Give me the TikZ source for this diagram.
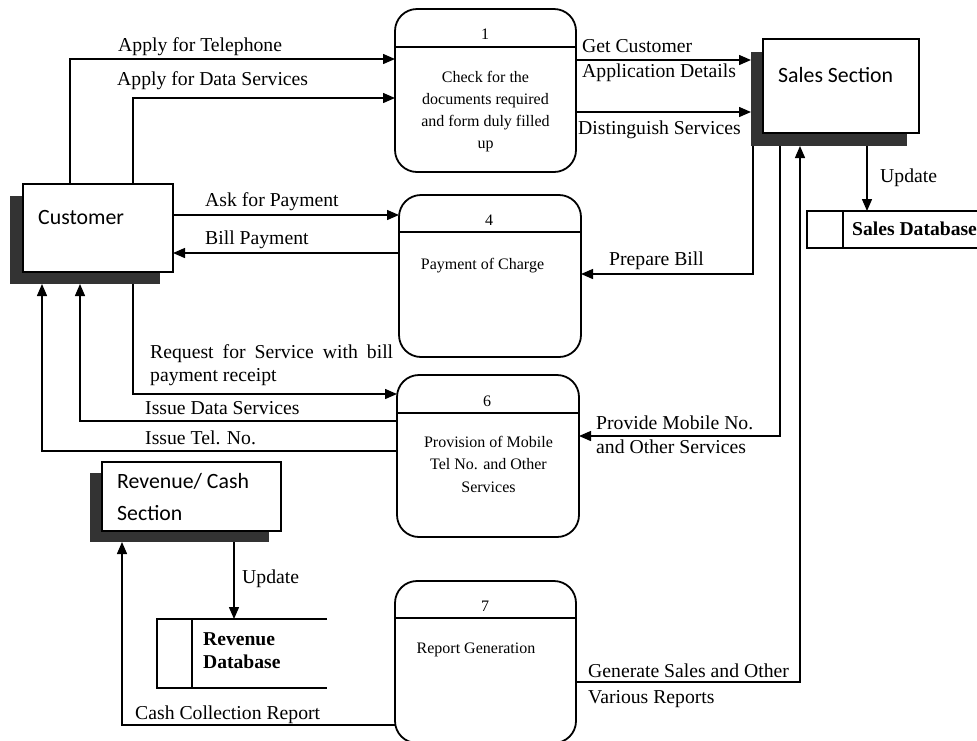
\documentclass[tikz,border=0pt]{standalone}
\usepackage{fontspec}
\setmainfont{Liberation Serif}
\newfontfamily\calibri{Carlito}
\usetikzlibrary{arrows.meta}
\definecolor{shadowgray}{HTML}{333333}

\tikzset{
  flow/.style={line width=1.4pt, -{Triangle[length=12pt,width=10pt]}},
  proc/.style={draw, line width=1.8pt, rounded corners=22pt, anchor=north west, inner sep=0pt, outer sep=0pt},
  pline/.style={line width=1.6pt},
  entity/.style={draw, line width=1.5pt, fill=white, anchor=north west, inner sep=0pt, outer sep=0pt},
  eshadow/.style={fill=shadowgray, anchor=north west, inner sep=0pt, outer sep=0pt},
  storearea/.style={anchor=north west, inner sep=0pt, outer sep=0pt},
  storeline/.style={line width=1.4pt},
  etext/.style={font=\calibri\fontsize{21.8}{26}\selectfont, inner sep=0pt, anchor=base west},
  dbtext/.style={font=\bfseries\fontsize{19.6}{23}\selectfont, inner sep=0pt, anchor=base west},
  ptext/.style={font=\fontsize{16}{22}\selectfont, inner sep=0pt, anchor=base},
  lbl/.style={font=\fontsize{19.7}{24}\selectfont, inner sep=0pt, anchor=base west},
}

\begin{document}
\begin{tikzpicture}[x=1pt,y=-1pt]
\useasboundingbox (0,0) rectangle (977,740);

% external entities with their dark offset shadows
\node[eshadow, minimum width=150pt, minimum height=88pt] (custS) at (10,196) {};
\node[entity, minimum width=150pt, minimum height=88pt] (cust) at (23,184) {};
\node[etext] (custT) at (38,224) {Customer};

\node[eshadow, minimum width=156pt, minimum height=94pt] (salesS) at (751,52) {};
\node[entity, minimum width=156pt, minimum height=94pt] (sales) at (763,39) {};
\node[etext] (salesT) at (778,82) {Sales Section};

\node[eshadow, minimum width=179pt, minimum height=69pt] (revS) at (90,473) {};
\node[entity, minimum width=179pt, minimum height=69pt] (rev) at (102,462) {};
\node[etext] (revT1) at (117,488) {Revenue/ Cash};
\node[etext] (revT2) at (117,520) {Section};

% processes
\node[proc, minimum width=181pt, minimum height=163pt] (p1) at (395,9) {};
\draw[pline] ([yshift=-38pt]p1.north west) -- ([yshift=-38pt]p1.north east);
\node[ptext] (n1) at (485,39) {1};
\node[ptext] (p1a) at (485.5,82) {Check for the};
\node[ptext] (p1b) at (485.5,104) {documents required};
\node[ptext] (p1c) at (485.5,126) {and form duly filled};
\node[ptext] (p1d) at (485.5,148) {up};

\node[proc, minimum width=182pt, minimum height=162pt] (p4) at (399,195) {};
\draw[pline] ([yshift=-37pt]p4.north west) -- ([yshift=-37pt]p4.north east);
\node[ptext] (n4) at (489,225) {4};
\node[ptext] (p4a) at (482.5,269) {Payment of Charge};

\node[proc, minimum width=182pt, minimum height=162pt] (p6) at (397,375) {};
\draw[pline] ([yshift=-38pt]p6.north west) -- ([yshift=-38pt]p6.north east);
\node[ptext] (n6) at (487,406) {6};
\node[ptext] (p6a) at (488.5,447) {Provision of Mobile};
\node[ptext] (p6b) at (488.5,469.5) {Tel No. and Other};
\node[ptext] (p6c) at (488.5,492) {Services};

\node[proc, minimum width=181pt, minimum height=162pt] (p7) at (395,581) {};
\draw[pline] ([yshift=-37pt]p7.north west) -- ([yshift=-37pt]p7.north east);
\node[ptext] (n7) at (485,611) {7};
\node[ptext] (p7a) at (476,653) {Report Generation};

% data stores (open on the right)
\node[storearea, minimum width=185pt, minimum height=37pt] (sdb) at (807,211) {};
\draw[storeline] (sdb.north east) -- (sdb.north west) -- (sdb.south west) -- (sdb.south east);
\draw[storeline] ([xshift=36pt]sdb.north west) -- ([xshift=36pt]sdb.south west);
\node[dbtext] (sdbT) at (852,235) {Sales Database};

\node[storearea, minimum width=170pt, minimum height=69pt] (rdb) at (157,619) {};
\draw[storeline] (rdb.north east) -- (rdb.north west) -- (rdb.south west) -- (rdb.south east);
\draw[storeline] ([xshift=35pt]rdb.north west) -- ([xshift=35pt]rdb.south west);
\node[dbtext] (rdbT1) at (203,645) {Revenue};
\node[dbtext] (rdbT2) at (203,668) {Database};

% bend points of the data flows
\coordinate (aTel) at (70,59);
\coordinate (aData) at (133,98);
\coordinate (aAsk) at (0,215);
\coordinate (aBill) at (0,253);
\coordinate (aReq) at (133,394);
\coordinate (aIDS) at (80,421);
\coordinate (aITN) at (42,451);
\coordinate (aGet) at (0,60);
\coordinate (aDist) at (0,112);
\coordinate (aUpd) at (867,0);
\coordinate (aPB) at (753,274);
\coordinate (aPM) at (780,436);
\coordinate (aGen) at (800,682);
\coordinate (aRU) at (234,0);
\coordinate (aCC) at (122,725);

% data flows
\draw[flow] (cust.north -| aTel) |- (p1.west |- aTel);
\draw[flow] (cust.north -| aData) |- (p1.west |- aData);
\draw[flow] (cust.east |- aAsk) -- (p4.west |- aAsk);
\draw[flow] (p4.west |- aBill) -- (cust.east |- aBill);
\draw[flow] (custS.south -| aReq) |- (p6.west |- aReq);
\draw[flow] (p6.west |- aIDS) -| (custS.south -| aIDS);
\draw[flow] (p6.west |- aITN) -| (custS.south -| aITN);
\draw[flow] (p1.east |- aGet) -- (salesS.west |- aGet);
\draw[flow] (p1.east |- aDist) -- (salesS.west |- aDist);
\draw[flow] (salesS.south -| aUpd) -- (sdb.north -| aUpd);
\draw[flow] (salesS.south -| aPB) |- (p4.east |- aPB);
\draw[flow] (salesS.south -| aPM) |- (p6.east |- aPM);
\draw[flow] (p7.east |- aGen) -| (salesS.south -| aGen);
\draw[flow] (revS.south -| aRU) -- (rdb.north -| aRU);
\draw[flow] (p7.west |- aCC) -| (revS.south -| aCC);

% flow labels
\node[lbl] (lTel) at (118,51) {Apply for Telephone};
\node[lbl] (lData) at (117,85) {Apply for Data Services};
\node[lbl] (lAsk) at (205,206) {Ask for Payment};
\node[lbl] (lBill) at (205,244) {Bill Payment};
\node[lbl] (lReq1) at (150,358) {\makebox[243pt][s]{Request for Service with bill}};
\node[lbl] (lReq2) at (150,381) {payment receipt};
\node[lbl] (lIDS) at (145,414) {Issue Data Services};
\node[lbl] (lITN) at (145,444) {Issue Tel. No.};
\node[lbl] (lGet1) at (582,52) {Get Customer};
\node[lbl] (lGet2) at (582,77) {Application Details};
\node[lbl] (lDist) at (578,134) {Distinguish Services};
\node[lbl] (lUpd) at (880,182) {Update};
\node[lbl] (lPB) at (609,265) {Prepare Bill};
\node[lbl] (lPM1) at (596,429) {Provide Mobile No.};
\node[lbl] (lPM2) at (596,453) {and Other Services};
\node[lbl] (lRU) at (242,583) {Update};
\node[lbl] (lGen1) at (588,677) {Generate Sales and Other};
\node[lbl] (lGen2) at (588,703) {Various Reports};
\node[lbl] (lCC) at (135,719) {Cash Collection Report};
\end{tikzpicture}
\end{document}
